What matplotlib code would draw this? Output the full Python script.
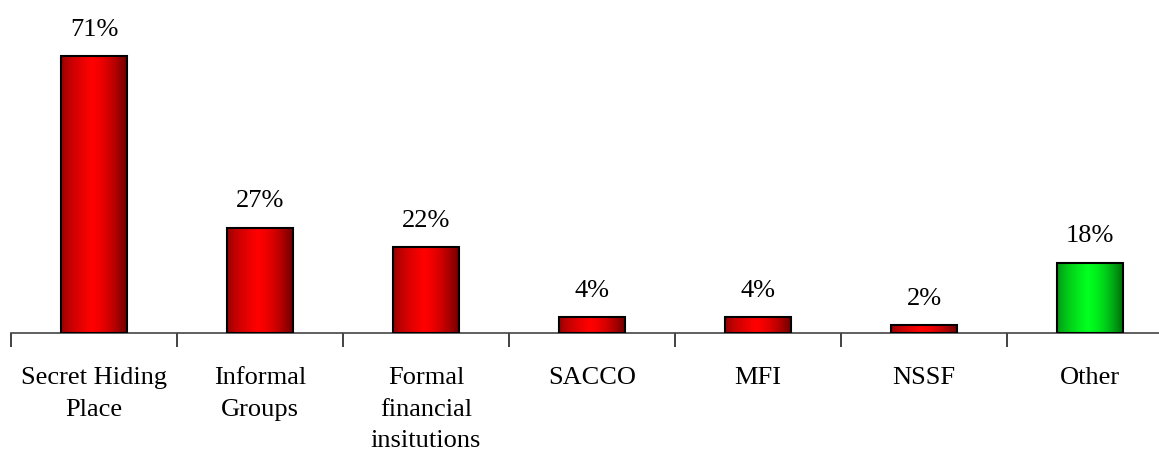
import numpy as np
import matplotlib
matplotlib.use("Agg")
import matplotlib.pyplot as plt

categories = ["Secret Hiding\nPlace", "Informal\nGroups", "Formal\nfinancial\ninsitutions",
              "SACCO", "MFI", "NSSF", "Other"]
shares = [71, 27, 22, 4, 4, 2, 18]
labels = ["71%", "27%", "22%", "4%", "4%", "2%", "18%"]
bar_kind = ["red", "red", "red", "red", "red", "red", "green"]

plt.rcParams["font.family"] = ["Liberation Serif", "DejaVu Serif"]


def shaded(base, n=200):
    # horizontal cylinder-like shading: dark edges, bright just left of centre
    t = np.linspace(0, 1, n)
    left = 0.55 + 0.45 * np.clip(t / 0.45, 0, 1) ** 0.6
    right = 1 - 0.6 * np.clip((t - 0.45) / 0.55, 0, 1) ** 1.6
    k = np.where(t < 0.45, left, right)
    return np.array(base)[None, None, :] * k[None, :, None]


colors = {"red": (1.0, 0.0, 0.0), "green": (0.0, 1.0, 0.12)}

fig = plt.figure(figsize=(11.59, 4.52), dpi=100)
ax = fig.add_axes([11 / 1159, 118 / 452, 1162 / 1159, 312 / 452])

width = 0.4
fs = 19
for i, (v, lab, kind) in enumerate(zip(shares, labels, bar_kind)):
    x0, x1 = i + 0.5 - width / 2, i + 0.5 + width / 2
    ax.imshow(shaded(colors[kind]), extent=(x0, x1, 0, v), aspect="auto",
              interpolation="bilinear", zorder=2)
    ax.bar(i + 0.5, v, width=width, facecolor="none", edgecolor="black",
           linewidth=1.5, zorder=3)
    ax.text(i + 0.5, v + 4.2, lab, ha="center", va="bottom", fontsize=fs)

ax.set_xlim(0, len(categories))
ax.set_ylim(0, 80)
ax.set_xticks(np.arange(len(categories) + 1))
ax.set_xticklabels([])
ax.set_xticks(np.arange(len(categories)) + 0.5, minor=True)
ax.set_xticklabels(categories, minor=True, fontsize=fs, linespacing=1.55, va="top")
ax.tick_params(axis="x", which="major", direction="out", length=10, width=1.2, color="#222222")
ax.tick_params(axis="x", which="minor", length=0, pad=24)
ax.set_yticks([])
for side in ("top", "right", "left"):
    ax.spines[side].set_visible(False)
ax.spines["bottom"].set_color("#444444")
ax.spines["bottom"].set_linewidth(1.2)

fig.savefig("out.png", dpi=100)
